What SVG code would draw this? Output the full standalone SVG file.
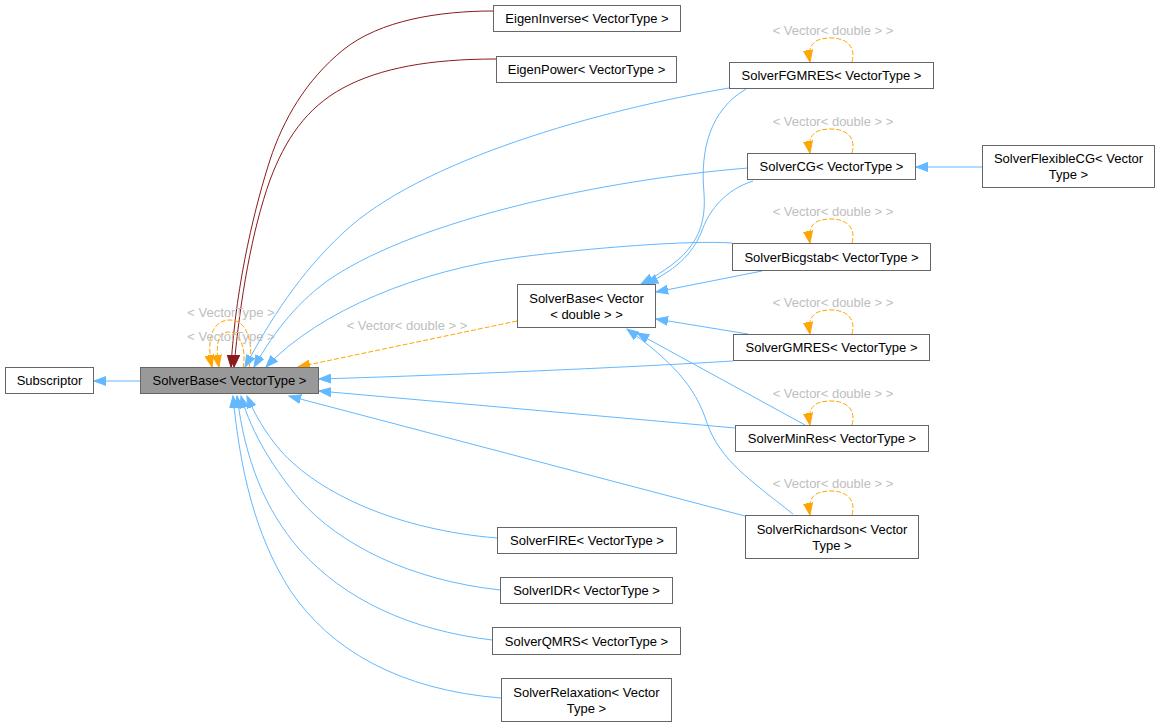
<svg xmlns="http://www.w3.org/2000/svg" width="1160" height="727" viewBox="0 0 1160 727">
<defs>
<style>
.n rect{fill:#ffffff;stroke:#666666;stroke-width:1}
.n.g rect{fill:#999999}
text{font-family:"Liberation Sans",Arial,sans-serif;font-size:13px;fill:#000000;text-anchor:middle}
text.l{fill:#bebebe}
.e path{fill:none;stroke-width:1}
.b{stroke:#63b8ff;marker-end:url(#ab)}
.r{stroke:#8b1a1a;marker-end:url(#ar)}
.o{stroke:#ffa500;stroke-dasharray:5,2;marker-end:url(#ao)}
</style>
<marker id="ab" markerUnits="userSpaceOnUse" markerWidth="14" markerHeight="10" refX="12" refY="5" orient="auto" viewBox="0 0 14 10"><path d="M0,0.5 L12,5 L0,9.5 z" fill="#63b8ff" stroke="#63b8ff"/></marker>
<marker id="ar" markerUnits="userSpaceOnUse" markerWidth="14" markerHeight="10" refX="12" refY="5" orient="auto" viewBox="0 0 14 10"><path d="M0,0.5 L12,5 L0,9.5 z" fill="#8b1a1a" stroke="#8b1a1a"/></marker>
<marker id="ao" markerUnits="userSpaceOnUse" markerWidth="14" markerHeight="10" refX="12" refY="5" orient="auto" viewBox="0 0 14 10"><path d="M0,0.5 L12,5 L0,9.5 z" fill="#ffa500" stroke="#ffa500"/></marker>
</defs>
<rect width="1160" height="727" fill="#ffffff"/>
<g id="edges" class="e">
<path class="b" d="M 140,381 L 94,381"/>
<path class="b" d="M 982,167 L 916,167"/>
<path class="r" d="M 493,11 C 440,11 380,20 343,50 C 306,80 283,120 270,160 C 257,200 236,280 231,367"/>
<path class="r" d="M 496,59 C 430,59 380,68 343,88 C 306,108 285,140 270,180 C 252,230 240,300 234,367"/>
<path class="o" d="M 249,368 C 254,345 248,320 230,320 C 212,320 206,340 212,367"/>
<path class="o" d="M 243,368 C 247,350 240,332 229,332 C 218,332 215,345 219,367"/>
<text class="l" x="231" y="317">&lt; VectorType &gt;</text>
<text class="l" x="231" y="341">&lt; VectorType &gt;</text>
<path class="b" d="M 729,88 C 600,110 420,160 343,233 C 300,273 270,320 245,367"/>
<path class="b" d="M 748,168 C 600,180 420,220 333,277 C 300,299 275,330 254,367"/>
<path class="b" d="M 732,243 C 690,240 590,248 520,257 C 420,270 320,310 266,367"/>
<path class="o" d="M 517,321 L 298,367"/>
<text class="l" x="407" y="330">&lt; Vector&lt; double &gt; &gt;</text>
<path class="b" d="M 733,361 C 600,369 420,376 319,379"/>
<path class="b" d="M 735,428 L 319,391"/>
<path class="b" d="M 745,516 L 289,396"/>
<path class="b" d="M 746,89 C 710,110 700,150 704,193 C 707,235 690,258 641,284"/>
<path class="b" d="M 753,181 C 725,190 710,210 703,228 C 695,250 680,268 646,284"/>
<path class="b" d="M 762,271 L 656,292"/>
<path class="b" d="M 748,334 L 656,319"/>
<path class="b" d="M 805,425 L 637,333"/>
<path class="b" d="M 793,514 C 750,480 720,460 707,423 C 695,385 670,360 627,329"/>
<path class="b" d="M 497,538 C 400,530 320,495 280,450 C 265,432 255,415 247,396"/>
<path class="b" d="M 500,590 C 410,580 340,545 300,500 C 275,470 252,435 241,396"/>
<path class="b" d="M 492,640 C 410,630 345,600 300,550 C 265,510 245,460 237,396"/>
<path class="b" d="M 501,698 C 400,690 330,650 290,590 C 255,535 240,470 233,396"/>
<path class="o" d="M 852,62 C 856,48 848,38 831,38 C 815,38 807,44 810,62"/>
<text class="l" x="833" y="35">&lt; Vector&lt; double &gt; &gt;</text>
<path class="o" d="M 852,153 C 856,139 848,129 831,129 C 815,129 807,135 810,153"/>
<text class="l" x="833" y="126">&lt; Vector&lt; double &gt; &gt;</text>
<path class="o" d="M 852,243 C 856,229 848,219 831,219 C 815,219 807,225 810,243"/>
<text class="l" x="833" y="216">&lt; Vector&lt; double &gt; &gt;</text>
<path class="o" d="M 852,334 C 856,320 848,310 831,310 C 815,310 807,316 810,334"/>
<text class="l" x="833" y="307">&lt; Vector&lt; double &gt; &gt;</text>
<path class="o" d="M 852,425 C 856,411 848,401 831,401 C 815,401 807,407 810,425"/>
<text class="l" x="833" y="398">&lt; Vector&lt; double &gt; &gt;</text>
<path class="o" d="M 852,515 C 856,501 848,491 831,491 C 815,491 807,497 810,515"/>
<text class="l" x="833" y="488">&lt; Vector&lt; double &gt; &gt;</text>
</g>
<g id="Subscriptor" class="n"><rect x="5.5" y="367.5" width="88" height="26"/><text x="49.5" y="385">Subscriptor</text></g>
<g id="SolverBaseVT" class="n g"><rect x="140.5" y="367.5" width="178" height="26"/><text x="229.5" y="385">SolverBase&lt; VectorType &gt;</text></g>
<g id="EigenInverse" class="n"><rect x="493.5" y="5.5" width="187" height="26"/><text x="587" y="23">EigenInverse&lt; VectorType &gt;</text></g>
<g id="EigenPower" class="n"><rect x="496.5" y="56.5" width="180" height="26"/><text x="586.5" y="74">EigenPower&lt; VectorType &gt;</text></g>
<g id="SolverFGMRES" class="n"><rect x="729.5" y="62.5" width="204" height="26"/><text x="831.5" y="80">SolverFGMRES&lt; VectorType &gt;</text></g>
<g id="SolverCG" class="n"><rect x="747.5" y="153.5" width="168" height="26"/><text x="831.5" y="171">SolverCG&lt; VectorType &gt;</text></g>
<g id="SolverFlexibleCG" class="n"><rect x="982.5" y="145.5" width="172" height="42"/><text x="1068.5" y="163">SolverFlexibleCG&lt; Vector</text><text x="1068.5" y="179">Type &gt;</text></g>
<g id="SolverBicgstab" class="n"><rect x="732.5" y="243.5" width="198" height="27"/><text x="831.5" y="261.5">SolverBicgstab&lt; VectorType &gt;</text></g>
<g id="SolverBaseVd" class="n"><rect x="517.5" y="284.5" width="138" height="43"/><text x="586.5" y="302.5">SolverBase&lt; Vector</text><text x="586.5" y="318.5">&lt; double &gt; &gt;</text></g>
<g id="SolverGMRES" class="n"><rect x="733.5" y="334.5" width="196" height="26"/><text x="831.5" y="352">SolverGMRES&lt; VectorType &gt;</text></g>
<g id="SolverMinRes" class="n"><rect x="735.5" y="425.5" width="193" height="26"/><text x="832" y="443">SolverMinRes&lt; VectorType &gt;</text></g>
<g id="SolverRichardson" class="n"><rect x="745.5" y="515.5" width="173" height="43"/><text x="832" y="533.5">SolverRichardson&lt; Vector</text><text x="832" y="549.5">Type &gt;</text></g>
<g id="SolverFIRE" class="n"><rect x="497.5" y="527.5" width="179" height="26"/><text x="587" y="545">SolverFIRE&lt; VectorType &gt;</text></g>
<g id="SolverIDR" class="n"><rect x="500.5" y="577.5" width="172" height="26"/><text x="586.5" y="595">SolverIDR&lt; VectorType &gt;</text></g>
<g id="SolverQMRS" class="n"><rect x="492.5" y="627.5" width="188" height="27"/><text x="586.5" y="645.5">SolverQMRS&lt; VectorType &gt;</text></g>
<g id="SolverRelaxation" class="n"><rect x="501.5" y="678.5" width="170" height="43"/><text x="586.5" y="696.5">SolverRelaxation&lt; Vector</text><text x="586.5" y="712.5">Type &gt;</text></g>
</svg>
